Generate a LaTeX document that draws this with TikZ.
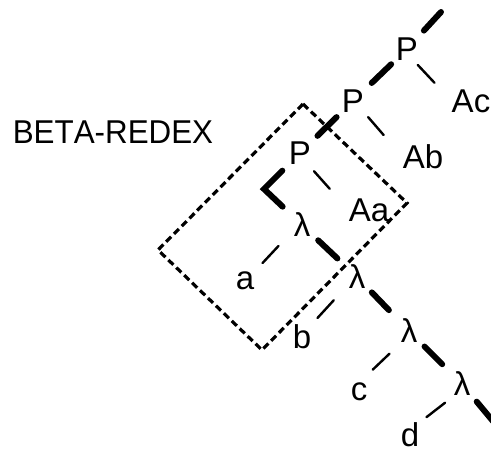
\documentclass[tikz,border=0pt]{standalone}
\usepackage{fontspec}
\setmainfont{Liberation Sans}
\begin{document}
\begin{tikzpicture}[x=1pt,y=-1pt,
  lbl/.style={inner sep=0pt, font=\fontsize{33}{38}\selectfont},
  heavy/.style={line width=6pt, line cap=round, line join=miter},
  light/.style={line width=2.4pt, line cap=round},
  frame/.style={line width=3.2pt, dash pattern=on 7pt off 4pt, line join=miter}]
\useasboundingbox (0,0) rectangle (491,455);

% labels
\node[lbl] (title) at (113,132.5) {\addfontfeatures{FakeStretch=0.95,Kerning=Off}BETA-REDEX};
\node[lbl] (P1) at (407,49) {P};
\node[lbl] (Ac) at (471,101) {Ac};
\node[lbl] (P2) at (353,101) {P};
\node[lbl] (Ab) at (423,157) {Ab};
\node[lbl] (P3) at (300,153) {P};
\node[lbl] (Aa) at (369,210) {Aa};
\node[lbl] (L1) at (302,225) {λ};
\node[lbl] (a) at (245,281) {a};
\node[lbl] (L2) at (357,277) {λ};
\node[lbl] (b) at (302,337) {b};
\node[lbl] (L3) at (409,331) {λ};
\node[lbl] (c) at (359,392) {c};
\node[lbl] (L4) at (462,384) {λ};
\node[lbl] (d) at (410,435) {d};

\coordinate (top) at (441,12);
\coordinate (tail) at (497,426);
\coordinate (bend) at (264,189);

% dashed frame
\coordinate (fT) at (303,104);
\coordinate (fR) at (407,203);
\coordinate (fB) at (262,350);
\coordinate (fL) at (158,250);
\draw[frame] (fT) -- (fR) -- (fB) -- (fL) -- cycle;

% spine
\draw[heavy, shorten <=25pt] (P1.center) -- (top);
\draw[heavy, shorten <=22pt, shorten >=26pt] (P1.center) -- (P2.center);
\draw[heavy, shorten <=23pt, shorten >=24.5pt] (P2.center) -- (P3.center);
\draw[heavy, shorten <=25pt, shorten >=26.7pt] (P3.center) -- (bend) -- (L1.center);
\draw[heavy, shorten <=22.3pt, shorten >=27pt] (L1.center) -- (L2.center);
\draw[heavy, shorten <=21.4pt, shorten >=29pt] (L2.center) -- (L3.center);
\draw[heavy, shorten <=22pt, shorten >=28pt] (L3.center) -- (L4.center);
\draw[heavy, shorten <=23pt] (L4.center) -- (tail);

% arguments
\draw[light, shorten <=6pt, shorten >=25pt] (P1.-60) -- (Ac.west);
\draw[light, shorten <=6pt, shorten >=29pt] (P2.south east) -- (Ab.west);
\draw[light, shorten <=8.9pt, shorten >=28.4pt] (P3.-55) -- (Aa.west);
\draw[light, shorten <=21.9pt, shorten >=11.9pt] (L1.210) -- (a.north east);
\draw[light, shorten <=21.8pt, shorten >=9.1pt] (L2.220) -- (b.north east);
\draw[light, shorten <=15.3pt, shorten >=19pt] (L3.south west) -- (c.north);
\draw[light, shorten <=10.7pt, shorten >=9pt] (L4.south west) -- (d.north east);
\end{tikzpicture}
\end{document}
